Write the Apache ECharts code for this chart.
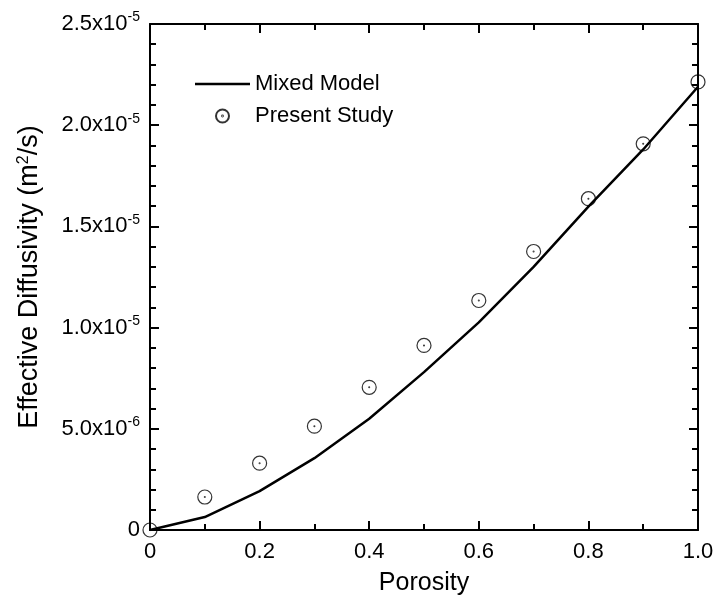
<!DOCTYPE html>
<html>
<head>
<meta charset="utf-8">
<script src="https://cdn.jsdelivr.net/npm/echarts@6/dist/echarts.min.js"></script>
<style>
  html, body { margin: 0; padding: 0; background: #fff; }
  #chart { width: 717px; height: 601px; }
</style>
</head>
<body>
<div id="chart"></div>
<script>
const porosity = [0, 0.1, 0.2, 0.3, 0.4, 0.5, 0.6, 0.7, 0.8, 0.9, 1.0];
const mixedModel = [0, 0.64e-6, 1.92e-6, 3.55e-6, 5.5e-6, 7.8e-6, 10.26e-6, 13.0e-6, 15.98e-6, 18.8e-6, 21.9e-6];
const presentStudy = [0, 1.63e-6, 3.3e-6, 5.13e-6, 7.05e-6, 9.12e-6, 11.34e-6, 13.76e-6, 16.37e-6, 19.08e-6, 22.14e-6];
const xTicks = ['0', '0.2', '0.4', '0.6', '0.8', '1.0'];

const font = 'Liberation Sans, Arial, sans-serif';
const dotCircle = 'path://M0,-10 A10,10 0 1,1 0,10 A10,10 0 1,1 0,-10 Z M0,-0.6 A0.6,0.6 0 1,1 0,0.6 A0.6,0.6 0 1,1 0,-0.6 Z';

function sciLabel(v) {
  if (Math.abs(v) < 1e-12) return '0';
  const exp = Math.floor(Math.log10(v) + 1e-9);
  const mant = (v / Math.pow(10, exp)).toFixed(1);
  return mant + 'x10{sup|' + exp + '}';
}

const chart = echarts.init(document.getElementById('chart'), null, { renderer: 'canvas' });

const axisCommon = {
  axisLine: { show: true, onZero: false, lineStyle: { color: '#000', width: 2 } },
  splitLine: { show: false }
};

const option = {
  animation: false,
  backgroundColor: '#fff',
  textStyle: { fontFamily: font, color: '#000' },
  grid: { left: 150, right: 19, top: 24, bottom: 70, containLabel: false },
  legend: {
    left: 190,
    top: 68,
    orient: 'vertical',
    itemGap: 10,
    itemWidth: 55,
    itemHeight: 13,
    textStyle: { fontFamily: font, fontSize: 22, color: '#000' },
    data: [
      { name: 'Mixed Model', icon: 'path://M0,0 L55,0 L55,2.5 L0,2.5 Z', itemStyle: { color: '#000', borderWidth: 0 } },
      { name: 'Present Study' }
    ]
  },
  xAxis: [
    Object.assign({}, axisCommon, {
      type: 'value', min: 0, max: 1, interval: 0.2,
      name: 'Porosity', nameLocation: 'middle', nameGap: 41,
      nameTextStyle: { fontFamily: font, fontSize: 25, color: '#000' },
      axisTick: { show: true, inside: true, length: 9, lineStyle: { color: '#000', width: 2 } },
      minorTick: { show: true, splitNumber: 2, length: 6, lineStyle: { color: '#000', width: 2 } },
      axisLabel: {
        fontFamily: font, fontSize: 22, color: '#000', margin: 11,
        formatter: (v) => xTicks[Math.round(v / 0.2)]
      }
    }),
    Object.assign({}, axisCommon, {
      type: 'value', min: 0, max: 1, interval: 0.2, position: 'top',
      axisTick: { show: true, inside: true, length: 9, lineStyle: { color: '#000', width: 2 } },
      minorTick: { show: true, splitNumber: 2, length: 6, lineStyle: { color: '#000', width: 2 } },
      axisLabel: { show: false }
    })
  ],
  yAxis: [
    Object.assign({}, axisCommon, {
      type: 'value', min: 0, max: 2.5e-5, interval: 5e-6,
      name: 'Effective Diffusivity (m{sup|2}/s)', nameLocation: 'middle', nameGap: 106,
      nameRotate: 90,
      nameTextStyle: {
        fontFamily: font, fontSize: 27, color: '#000',
        rich: { sup: { fontFamily: font, fontSize: 16, verticalAlign: 'top', color: '#000', padding: [0, 0, 12, 0] } }
      },
      axisTick: { show: true, inside: true, length: 9, lineStyle: { color: '#000', width: 2 } },
      minorTick: { show: true, splitNumber: 5, length: 6, lineStyle: { color: '#000', width: 2 } },
      axisLabel: {
        fontFamily: font, fontSize: 22, color: '#000', margin: 10,
        formatter: sciLabel,
        rich: { sup: { fontFamily: font, fontSize: 14, color: '#000', verticalAlign: 'top', padding: [0, 0, 13, 0] } }
      }
    }),
    Object.assign({}, axisCommon, {
      type: 'value', min: 0, max: 2.5e-5, interval: 5e-6, position: 'right',
      axisTick: { show: true, inside: true, length: 9, lineStyle: { color: '#000', width: 2 } },
      minorTick: { show: true, splitNumber: 5, length: 6, lineStyle: { color: '#000', width: 2 } },
      axisLabel: { show: false }
    })
  ],
  series: [
    {
      name: 'Mixed Model',
      type: 'line',
      xAxisIndex: 0, yAxisIndex: 0,
      showSymbol: false,
      symbol: 'none',
      lineStyle: { color: '#000', width: 2.5 },
      itemStyle: { color: '#000' },
      data: porosity.map((x, i) => [x, mixedModel[i]])
    },
    {
      name: 'Present Study',
      type: 'scatter',
      xAxisIndex: 0, yAxisIndex: 0,
      symbol: dotCircle,
      symbolSize: 14,
      itemStyle: { color: 'rgba(0,0,0,0)', borderColor: '#000', borderWidth: 1.2 },
      data: porosity.map((x, i) => [x, presentStudy[i]])
    }
  ]
};

chart.setOption(option);
</script>
</body>
</html>
